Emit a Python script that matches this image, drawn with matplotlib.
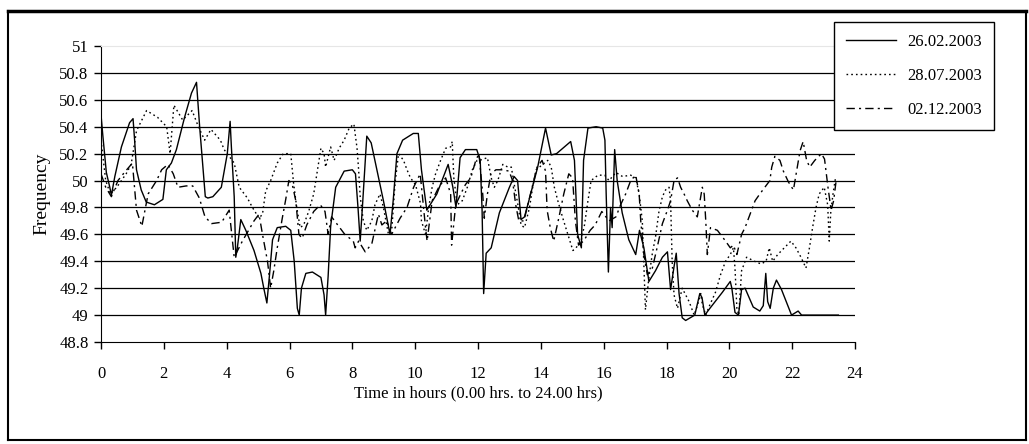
import matplotlib
matplotlib.use("Agg")
import matplotlib.pyplot as plt
from matplotlib.lines import Line2D
from matplotlib.ticker import FuncFormatter

plt.rcParams["font.family"] = ["Liberation Serif", "DejaVu Serif"]

# 26.02.2003 (solid)
hours_feb = [0.0, 0.06, 0.17, 0.28, 0.33, 0.44, 0.65, 0.91, 1.02, 1.07, 1.13, 1.28, 1.44, 1.70, 1.97,
             2.08, 2.24, 2.40, 2.66, 2.88, 3.04, 3.14, 3.25, 3.32, 3.40, 3.56, 3.83, 4.02, 4.11, 4.15,
             4.24, 4.29, 4.34, 4.45, 4.61, 4.87, 5.09, 5.19, 5.28, 5.36, 5.46, 5.61, 5.88, 6.04, 6.15,
             6.25, 6.31, 6.38, 6.52, 6.73, 7.00, 7.10, 7.15, 7.23, 7.31, 7.47, 7.74, 8.00, 8.10, 8.18,
             8.25, 8.32, 8.46, 8.60, 8.99, 9.20, 9.30, 9.42, 9.60, 9.94, 10.10, 10.20, 10.37, 10.69,
             11.05, 11.20, 11.30, 11.43, 11.60, 11.96, 12.07, 12.13, 12.18, 12.26, 12.42, 12.68, 13.00,
             13.15, 13.26, 13.37, 13.48, 13.63, 13.90, 14.07, 14.15, 14.33, 14.50, 14.80, 14.95, 15.07,
             15.17, 15.29, 15.36, 15.50, 15.76, 15.97, 16.04, 16.08, 16.15, 16.22, 16.27, 16.35, 16.43,
             16.59, 16.80, 17.02, 17.14, 17.28, 17.44, 17.65, 17.87, 18.03, 18.13, 18.24, 18.31, 18.40,
             18.50, 18.61, 18.90, 19.06, 19.13, 19.22, 19.38, 19.78, 20.03, 20.08, 20.18, 20.29, 20.39,
             20.50, 20.76, 20.97, 21.08, 21.16, 21.22, 21.30, 21.40, 21.50, 21.66, 21.98, 22.19, 22.30,
             23.47]
freq_feb = [50.49, 50.33, 50.06, 49.95, 49.89, 50.03, 50.25, 50.43, 50.46, 50.30, 50.08, 49.93, 49.84,
            49.82, 49.86, 50.08, 50.13, 50.23, 50.47, 50.65, 50.73, 50.40, 50.08, 49.88, 49.87, 49.88,
            49.95, 50.20, 50.44, 50.25, 49.88, 49.43, 49.50, 49.71, 49.63, 49.48, 49.31, 49.19, 49.09,
            49.29, 49.56, 49.65, 49.66, 49.63, 49.40, 49.05, 49.00, 49.20, 49.31, 49.32, 49.28, 49.15,
            49.00, 49.29, 49.66, 49.95, 50.07, 50.08, 50.05, 49.80, 49.55, 49.80, 50.33, 50.28, 49.85,
            49.60, 49.85, 50.20, 50.30, 50.35, 50.35, 50.08, 49.78, 49.90, 50.12, 49.95, 49.80, 50.17,
            50.23, 50.23, 50.15, 49.78, 49.16, 49.46, 49.50, 49.76, 49.95, 50.03, 50.00, 49.71, 49.73,
            49.86, 50.10, 50.30, 50.39, 50.19, 50.20, 50.26, 50.29, 50.15, 49.60, 49.50, 50.15, 50.39,
            50.40, 50.39, 50.30, 49.90, 49.32, 49.80, 49.65, 50.23, 50.00, 49.76, 49.56, 49.45, 49.63,
            49.50, 49.25, 49.33, 49.43, 49.47, 49.19, 49.36, 49.46, 49.16, 48.98, 48.96, 49.00, 49.16,
            49.13, 49.00, 49.05, 49.17, 49.25, 49.20, 49.02, 49.00, 49.19, 49.20, 49.06, 49.03, 49.07,
            49.31, 49.10, 49.05, 49.20, 49.26, 49.19, 49.00, 49.03, 49.00, 49.00]

# 28.07.2003 (dotted)
hours_jul = [0.0, 0.15, 0.30, 0.50, 0.80, 0.96, 1.13, 1.30, 1.45, 1.80, 2.09, 2.20, 2.32, 2.60, 2.90,
             3.10, 3.30, 3.50, 3.80, 3.92, 4.24, 4.40, 4.66, 4.82, 5.03, 5.14, 5.24, 5.40, 5.61, 5.80,
             6.04, 6.08, 6.13, 6.23, 6.34, 6.45, 6.61, 6.77, 6.89, 7.00, 7.10, 7.15, 7.31, 7.42, 7.58,
             7.74, 7.90, 8.05, 8.15, 8.20, 8.25, 8.35, 8.46, 8.62, 8.72, 8.88, 8.99, 9.15, 9.26, 9.36,
             9.47, 9.63, 9.74, 9.85, 10.01, 10.17, 10.20, 10.33, 10.43, 10.54, 10.65, 10.81, 10.97,
             11.13, 11.18, 11.23, 11.34, 11.50, 11.66, 11.82, 11.97, 12.05, 12.30, 12.42, 12.52, 12.63,
             12.79, 12.95, 13.06, 13.17, 13.27, 13.37, 13.48, 13.64, 13.74, 13.85, 14.06, 14.22, 14.33,
             14.43, 14.54, 14.70, 14.86, 15.02, 15.12, 15.28, 15.39, 15.50, 15.60, 15.82, 16.03, 16.17,
             16.39, 16.60, 16.86, 17.02, 17.13, 17.23, 17.30, 17.33, 17.44, 17.55, 17.65, 17.76, 17.87,
             17.97, 18.08, 18.13, 18.18, 18.24, 18.35, 18.50, 18.72, 18.88, 18.98, 19.09, 19.14, 19.25,
             19.35, 19.56, 19.72, 19.88, 20.03, 20.13, 20.18, 20.24, 20.30, 20.39, 20.55, 20.80, 21.01,
             21.17, 21.27, 21.38, 21.54, 21.75, 21.96, 22.12, 22.28, 22.44, 22.55, 22.65, 22.76, 22.86,
             23.02, 23.13, 23.18, 23.23, 23.30, 23.38]
freq_jul = [50.30, 50.00, 49.90, 49.95, 50.05, 50.12, 50.37, 50.45, 50.52, 50.47, 50.40, 50.20, 50.56,
            50.45, 50.52, 50.40, 50.30, 50.38, 50.30, 50.23, 50.13, 49.95, 49.87, 49.80, 49.72, 49.75,
            49.92, 50.00, 50.13, 50.20, 50.20, 50.10, 49.98, 49.80, 49.65, 49.67, 49.77, 49.90, 50.08,
            50.24, 50.20, 50.10, 50.25, 50.15, 50.24, 50.30, 50.39, 50.42, 50.24, 50.08, 49.88, 49.70,
            49.63, 49.70, 49.82, 49.90, 49.80, 49.60, 49.65, 49.98, 50.20, 50.15, 50.08, 50.02, 49.97,
            49.83, 49.70, 49.60, 49.80, 49.95, 50.05, 50.15, 50.24, 50.25, 50.29, 50.02, 49.82, 49.85,
            49.95, 50.08, 50.15, 50.15, 50.17, 50.02, 49.95, 50.00, 50.12, 50.10, 50.10, 49.95, 49.82,
            49.67, 49.65, 49.80, 49.95, 50.08, 50.12, 50.15, 50.10, 49.95, 49.85, 49.72, 49.60, 49.48,
            49.50, 49.55, 49.67, 49.85, 50.00, 50.04, 50.04, 50.00, 50.06, 50.03, 50.04, 50.02, 49.90,
            49.70, 49.25, 49.04, 49.28, 49.46, 49.58, 49.77, 49.88, 49.93, 49.95, 49.85, 49.40, 49.15,
            49.05, 49.20, 49.10, 49.00, 49.07, 49.16, 49.08, 49.00, 49.06, 49.17, 49.30, 49.40, 49.45,
            49.50, 49.35, 49.05, 49.00, 49.33, 49.43, 49.40, 49.38, 49.40, 49.50, 49.40, 49.45, 49.50,
            49.55, 49.50, 49.43, 49.35, 49.50, 49.65, 49.80, 49.90, 49.95, 49.82, 49.55, 49.77, 49.90,
            50.02]

# 02.12.2003 (dash-dot)
hours_dec = [0.0, 0.15, 0.33, 0.54, 0.71, 1.00, 1.13, 1.30, 1.50, 1.77, 1.93, 2.13, 2.30, 2.45, 2.71,
             2.92, 3.13, 3.31, 3.52, 3.84, 4.08, 4.24, 4.50, 4.87, 5.03, 5.14, 5.30, 5.40, 5.50, 5.61,
             5.77, 5.88, 5.98, 6.09, 6.20, 6.30, 6.40, 6.55, 6.77, 6.98, 7.13, 7.23, 7.34, 7.50, 7.66,
             7.76, 8.03, 8.09, 8.20, 8.41, 8.62, 8.83, 8.94, 9.09, 9.25, 9.52, 9.74, 9.95, 10.16, 10.33,
             10.38, 10.54, 10.75, 10.97, 11.13, 11.16, 11.29, 11.45, 11.60, 11.77, 11.93, 12.03, 12.15,
             12.20, 12.30, 12.41, 12.57, 12.78, 12.99, 13.10, 13.20, 13.30, 13.46, 13.67, 13.88, 14.04,
             14.15, 14.20, 14.30, 14.41, 14.57, 14.73, 14.89, 15.01, 15.10, 15.20, 15.36, 15.57, 15.73,
             15.94, 16.17, 16.39, 16.54, 16.70, 16.86, 17.02, 17.13, 17.18, 17.28, 17.39, 17.55, 17.70,
             17.87, 18.03, 18.13, 18.24, 18.35, 18.45, 18.56, 18.66, 18.82, 18.98, 19.14, 19.20, 19.25,
             19.30, 19.40, 19.62, 19.88, 20.03, 20.13, 20.24, 20.39, 20.50, 20.66, 20.82, 20.97, 21.13,
             21.29, 21.35, 21.45, 21.61, 21.72, 21.88, 22.04, 22.14, 22.25, 22.35, 22.46, 22.56, 22.72,
             22.93, 23.03, 23.14, 23.24, 23.32, 23.40]
freq_dec = [50.05, 49.95, 49.88, 50.00, 50.05, 50.13, 49.78, 49.66, 49.90, 50.00, 50.08, 50.12, 50.05,
            49.95, 49.96, 49.96, 49.87, 49.73, 49.68, 49.69, 49.78, 49.43, 49.55, 49.70, 49.75, 49.60,
            49.40, 49.20, 49.33, 49.50, 49.72, 49.86, 50.00, 49.97, 49.85, 49.60, 49.57, 49.67, 49.77,
            49.82, 49.77, 49.60, 49.73, 49.68, 49.63, 49.60, 49.55, 49.50, 49.55, 49.47, 49.53, 49.75,
            49.67, 49.70, 49.60, 49.72, 49.80, 49.95, 50.05, 49.65, 49.55, 49.85, 49.95, 50.02, 49.90,
            49.52, 49.82, 49.90, 49.97, 50.02, 50.15, 50.20, 49.90, 49.72, 49.90, 50.05, 50.08, 50.08,
            50.07, 50.00, 49.82, 49.70, 49.70, 49.90, 50.10, 50.15, 50.07, 49.78, 49.65, 49.55, 49.72,
            49.90, 50.05, 50.02, 49.70, 49.52, 49.55, 49.63, 49.67, 49.77, 49.70, 49.73, 49.82, 49.90,
            50.00, 50.04, 49.90, 49.70, 49.45, 49.30, 49.35, 49.50, 49.68, 49.78, 49.85, 50.00, 50.02,
            49.95, 49.90, 49.85, 49.78, 49.73, 49.95, 49.90, 49.70, 49.45, 49.65, 49.63, 49.55, 49.50,
            49.52, 49.45, 49.60, 49.65, 49.75, 49.85, 49.90, 49.95, 50.00, 50.10, 50.18, 50.15, 50.07,
            49.99, 49.93, 50.07, 50.22, 50.29, 50.15, 50.10, 50.15, 50.20, 50.16, 49.95, 49.78, 49.85,
            50.00]

labels = ["26.02.2003", "28.07.2003", "02.12.2003"]
y_ticks = [48.8, 49.0, 49.2, 49.4, 49.6, 49.8, 50.0, 50.2, 50.4, 50.6, 50.8, 51.0]
x_ticks = [0, 2, 4, 6, 8, 10, 12, 14, 16, 18, 20, 22, 24]


fig = plt.figure(figsize=(10.29, 4.44), dpi=100)
ax = fig.add_axes([101 / 1029, 1 - 342 / 444, 754 / 1029, 296 / 444])

# horizontal grid lines at every tick except the bottom axis and top edge
for yv in y_ticks[1:-1]:
    ax.axhline(yv, color="black", lw=0.9, zorder=1)

ax.plot(hours_feb, freq_feb, color="black", lw=1.0, ls="-", label=labels[0], zorder=3)
ax.plot(hours_jul, freq_jul, color="black", lw=1.0, ls=(0, (1.2, 2.2)), label=labels[1], zorder=3)
ax.plot(hours_dec, freq_dec, color="black", lw=1.0, ls=(0, (6, 3, 1.5, 3)), label=labels[2], zorder=3)

ax.set_xlim(0, 24)
ax.set_ylim(48.8, 51)
ax.set_xticks(x_ticks)
ax.set_yticks(y_ticks)
ax.yaxis.set_major_formatter(FuncFormatter(lambda v, p: "%g" % round(v, 1)))
ax.tick_params(direction="out", length=5, width=1, labelsize=12, color="black")
ax.tick_params(axis="x", pad=12)
ax.tick_params(axis="y", pad=4)

ax.spines["right"].set_visible(False)
ax.spines["top"].set_color("#e6e6e6")
ax.spines["left"].set_color("black")
ax.spines["bottom"].set_color("black")

ax.set_ylabel("Frequency", fontsize=14, labelpad=6)
ax.set_xlabel("Time in hours (0.00 hrs. to 24.00 hrs)", fontsize=12, labelpad=3)

leg = fig.legend(loc="upper left", bbox_to_anchor=(834 / 1029, 1 - 22 / 444),
                 bbox_transform=fig.transFigure, frameon=True, fancybox=False,
                 edgecolor="black", framealpha=1, fontsize=12, handlelength=3.0,
                 handletextpad=0.7, labelspacing=1.1, borderpad=0.7, borderaxespad=0)
leg.get_frame().set_linewidth(1.0)

# outer frame of the original picture
fig.add_artist(Line2D([8 / 1029, 1026 / 1029], [1 - 11 / 444, 1 - 11 / 444], color="black", lw=2.5,
                      transform=fig.transFigure))
fig.add_artist(Line2D([8 / 1029, 8 / 1029], [1 - 11 / 444, 4 / 444], color="black", lw=1.5,
                      transform=fig.transFigure))
fig.add_artist(Line2D([1026 / 1029, 1026 / 1029], [1 - 11 / 444, 4 / 444], color="black", lw=1.5,
                      transform=fig.transFigure))
fig.add_artist(Line2D([8 / 1029, 1026 / 1029], [4 / 444, 4 / 444], color="black", lw=1.5,
                      transform=fig.transFigure))

fig.savefig("out.png", dpi=100, facecolor="white")
